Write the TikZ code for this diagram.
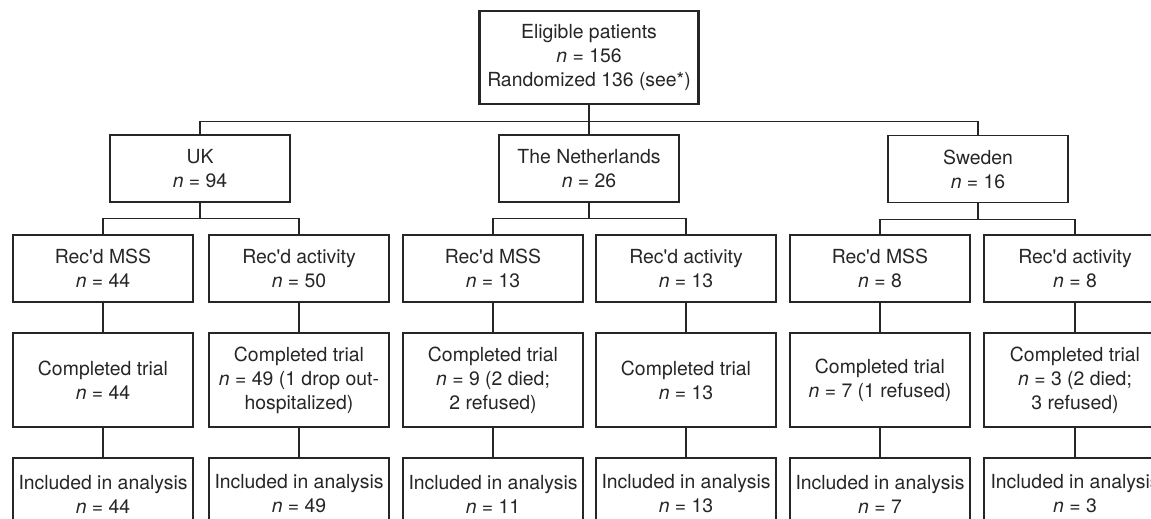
\documentclass[tikz,border=0pt]{standalone}
\usepackage{fontspec}
\setmainfont{TeX Gyre Heros}
\usepackage{tikz}

\begin{document}
\begin{tikzpicture}[x=1pt, y=-1pt,
    box/.style={rectangle, draw=black!85, line width=1.2pt, fill=white, minimum width=180pt, minimum height=67pt, inner sep=0pt, align=center, text=black!85, font=\fontsize{19.4}{24}\selectfont},
    tallbox/.style={box, minimum height=94pt},
    line/.style={draw=black!85, line width=1.2pt}
]

\clip (0,0) rectangle (1151,519);
\fill[white] (0,0) rectangle (1151,519);

% Top box
\node[box, line width=2.6pt, minimum width=219pt, minimum height=93pt] (eligible) at (589,57.5) {Eligible patients\\\textit{n} = 156\\Randomized 136 (see*)};

% Countries
\node[box] (uk) at (200,168.5) {UK\\\textit{n} = 94};
\node[box] (nl) at (589,168.5) {The Netherlands\\\textit{n} = 26};
\node[box] (se) at (978,169) {Sweden\\\textit{n} = 16};

% Treatment groups
\node[box] (ukmss) at (103,268.5) {Rec\textquotesingle d MSS\\\textit{n} = 44};
\node[box] (ukact) at (299,268.5) {Rec\textquotesingle d activity\\\textit{n} = 50};
\node[box] (nlmss) at (493,268.5) {Rec\textquotesingle d MSS\\\textit{n} = 13};
\node[box] (nlact) at (686,268.5) {Rec\textquotesingle d activity\\\textit{n} = 13};
\node[box, line width=1.6pt] (semss) at (880,268.5) {Rec\textquotesingle d MSS\\\textit{n} = 8};
\node[box, line width=1.6pt, minimum width=182pt] (seact) at (1075,268.5) {Rec\textquotesingle d activity\\\textit{n} = 8};

% Completed trial
\node[tallbox] (ukcomp) at (103,380) {Completed trial\\\textit{n} = 44};
\node[tallbox] (ukactcomp) at (299,380) {Completed trial\\\textit{n} = 49 (1 drop out-\\hospitalized)};
\node[tallbox] (nlcomp) at (493,380) {Completed trial\\\textit{n} = 9 (2 died;\\2 refused)};
\node[tallbox] (nlactcomp) at (686,380) {Completed trial\\\textit{n} = 13};
\node[tallbox, line width=1.6pt] (secomp) at (880,380) {Completed trial\\\textit{n} = 7 (1 refused)};
\node[tallbox, line width=1.6pt, minimum width=182pt] (seactcomp) at (1075,380) {Completed trial\\\textit{n} = 3 (2 died;\\3 refused)};

% Included in analysis
\node[box, minimum height=72pt] (ukincl) at (103,494) {Included in analysis\\\textit{n} = 44};
\node[box, minimum height=72pt] (ukactincl) at (299,494) {Included in analysis\\\textit{n} = 49};
\node[box, minimum height=72pt] (nlincl) at (493,494) {Included in analysis\\\textit{n} = 11};
\node[box, minimum height=72pt] (nlactincl) at (686,494) {Included in analysis\\\textit{n} = 13};
\node[box, line width=1.6pt, minimum height=72pt] (seincl) at (880,494) {Included in analysis\\\textit{n} = 7};
\node[box, line width=1.6pt, minimum height=72pt, minimum width=182pt] (seactincl) at (1075,494) {Included in analysis\\\textit{n} = 3};

% Connectors
\draw[line] (eligible) -- (nl);
\draw[line] (eligible.south) -- ++(0,16) -| (uk);
\draw[line] (eligible.south) -- ++(0,16) -| (se);

\draw[line] (uk.south) -- ++(0,16) -| (ukmss);
\draw[line] (uk.south) -- ++(0,16) -| (ukact);
\draw[line] (nl.south) -- ++(0,16) -| (nlmss);
\draw[line] (nl.south) -- ++(0,16) -| (nlact);
\draw[line] (se.south) -- ++(0,16) -| (semss);
\draw[line] (se.south) -- ++(0,16) -| (seact);

\draw[line] (ukmss) -- (ukcomp) -- (ukincl);
\draw[line] (ukact) -- (ukactcomp) -- (ukactincl);
\draw[line] (nlmss) -- (nlcomp) -- (nlincl);
\draw[line] (nlact) -- (nlactcomp) -- (nlactincl);
\draw[line] (semss) -- (secomp) -- (seincl);
\draw[line, line width=1.6pt] (seact) -- (seactcomp) -- (seactincl);

\end{tikzpicture}
\end{document}
